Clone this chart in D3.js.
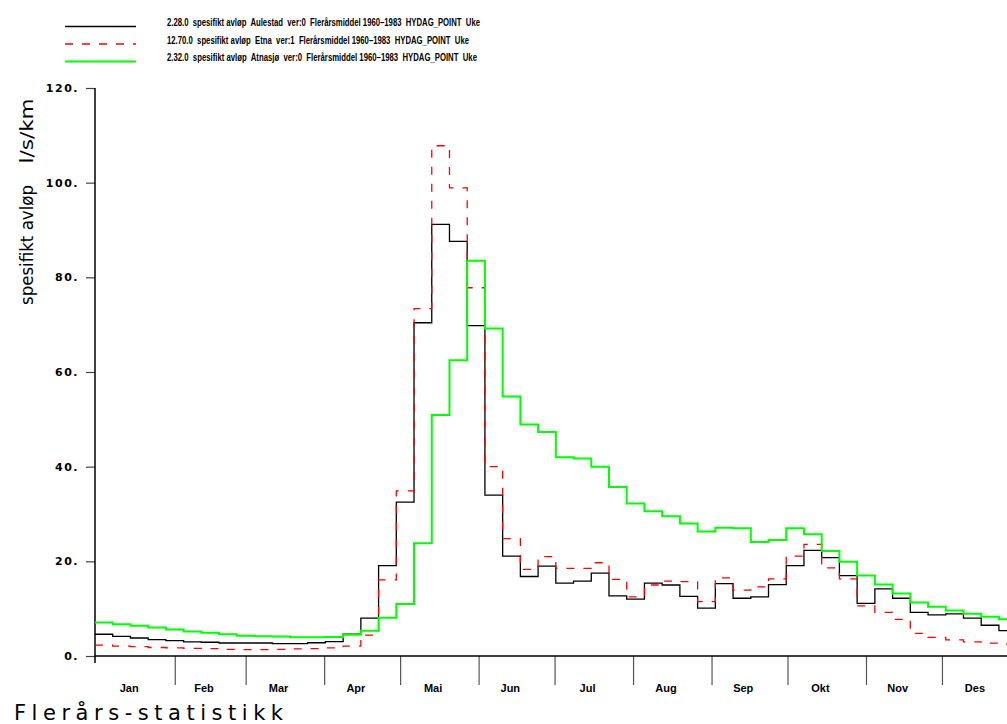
<!DOCTYPE html>
<html>
<head>
<meta charset="utf-8">
<script src="https://cdn.jsdelivr.net/npm/d3@7"></script>
<style>
  body { margin: 0; background: #fff; }
  text { white-space: pre; }
</style>
</head>
<body>
<div id="chart"></div>
<script>
// weekly mean specific runoff, l/s/km, week 1..52
const monthNames = ["Jan", "Feb", "Mar", "Apr", "Mai", "Jun", "Jul", "Aug", "Sep", "Okt", "Nov", "Des"];
const monthDays = [31, 28, 31, 30, 31, 30, 31, 31, 30, 31, 30, 31];

const aulestad = [
  4.6, 4.15, 3.8, 3.45, 3.25, 3.0, 2.9, 2.75, 2.75, 2.75, 2.6, 2.6, 2.8,
  3.05, 4.6, 8.0, 19.1, 32.5, 70.4, 91.2, 87.6, 69.8, 34.0, 21.1, 16.8, 19.0,
  15.4, 15.8, 17.5, 12.7, 12.0, 15.4, 15.0, 12.6, 10.1, 15.3, 12.2, 12.5, 15.1,
  19.1, 22.3, 20.8, 17.0, 11.1, 14.2, 12.2, 9.2, 8.7, 8.9, 8.0, 6.5, 5.35
];
const etna = [
  2.3, 2.1, 2.0, 1.8, 1.7, 1.6, 1.55, 1.4, 1.35, 1.35, 1.4, 1.5, 1.55,
  1.7, 2.1, 4.4, 16.1, 34.9, 73.4, 107.8, 98.9, 77.8, 40.0, 24.8, 18.3, 21.0,
  18.5, 18.5, 19.7, 16.2, 12.5, 15.0, 15.8, 15.7, 11.5, 16.5, 13.9, 14.6, 16.3,
  21.1, 23.6, 18.6, 16.3, 10.6, 9.2, 7.75, 4.8, 3.95, 3.4, 3.0, 2.7, 2.5
];
const atnasjo = [
  7.1, 6.7, 6.4, 6.0, 5.6, 5.2, 4.9, 4.6, 4.3, 4.15, 4.1, 3.95, 3.95,
  4.0, 4.5, 5.35, 8.1, 11.0, 23.8, 50.9, 62.5, 83.5, 69.2, 54.8, 48.9, 47.3,
  42.0, 41.7, 40.0, 35.7, 32.2, 30.6, 29.5, 28.0, 26.3, 27.1, 27.0, 24.1, 24.5,
  27.0, 25.7, 22.2, 19.9, 17.0, 15.1, 13.2, 11.3, 10.4, 9.6, 8.9, 8.3, 7.75
];

const yTicks = [0, 20, 40, 60, 80, 100, 120];
const legendLabels = [
  "2.28.0  spesifikt avløp  Aulestad  ver:0  Flerårsmiddel 1960\u20131983  HYDAG_POINT  Uke",
  "12.70.0  spesifikt avløp  Etna  ver:1  Flerårsmiddel 1960\u20131983  HYDAG_POINT  Uke",
  "2.32.0  spesifikt avløp  Atnasjø  ver:0  Flerårsmiddel 1960\u20131983  HYDAG_POINT  Uke"
];
const legendWidths = [313, 302, 310];

const width = 1007;
const height = 724;
const x0 = 95;
const yBottom = 656;
const yTop = 88;

const series = [
  { values: aulestad, color: "#000000", width: 1.3, dash: null },
  { values: etna, color: "#ff0000", width: 1.3, dash: "8,9" },
  { values: atnasjo, color: "#00ff00", width: 2, dash: null }
];

const svg = d3.select("#chart")
  .append("svg")
  .attr("width", width)
  .attr("height", height)
  .style("display", "block");

const x = d3.scaleLinear().domain([0, 365]).range([x0, x0 + 365 * 2.532]);
const y = d3.scaleLinear().domain([0, 120]).range([yBottom, yTop]);

// month boundaries in days
const monthStart = d3.cumsum([0, ...monthDays.slice(0, -1)]);
const monthEnd = d3.cumsum(monthDays);

// y axis
const yAxis = d3.axisLeft(y)
  .tickValues(yTicks)
  .tickFormat((d) => d + ".")
  .tickSize(9)
  .tickPadding(7);
const gy = svg.append("g")
  .attr("transform", `translate(${x0},0)`)
  .call(yAxis);
gy.select(".domain").remove();
gy.selectAll(".tick line").attr("stroke", "#444").attr("stroke-width", 1.2);
gy.selectAll(".tick text")
  .attr("font-family", "DejaVu Sans")
  .attr("font-weight", "bold")
  .attr("font-size", 11)
  .attr("letter-spacing", 1.5)
  .attr("fill", "#000");
svg.append("line")
  .attr("x1", x0).attr("x2", x0)
  .attr("y1", yTop).attr("y2", yBottom + 7)
  .attr("stroke", "#000").attr("stroke-width", 1.5);

// x axis
const xAxis = d3.axisBottom(x)
  .tickValues(monthEnd.slice(0, -1).map((d) => d + 0.5))
  .tickSize(29)
  .tickFormat("");
const gx = svg.append("g")
  .attr("transform", `translate(0,${yBottom})`)
  .call(xAxis);
gx.select(".domain").remove();
gx.selectAll(".tick line").attr("stroke", "#555").attr("stroke-width", 1.2);
svg.append("line")
  .attr("x1", x0).attr("x2", width)
  .attr("y1", yBottom).attr("y2", yBottom)
  .attr("stroke", "#000").attr("stroke-width", 1.5);

svg.append("g")
  .selectAll("text")
  .data(monthNames)
  .enter()
  .append("text")
  .attr("x", (d, i) => x((monthStart[i] + monthEnd[i]) / 2) - 5)
  .attr("y", 692)
  .attr("text-anchor", "middle")
  .attr("font-family", "Liberation Sans Narrow, Liberation Sans")
  .attr("font-weight", "bold")
  .attr("font-size", 11)
  .text((d) => d);

// y title
svg.append("text")
  .attr("transform", "translate(33,245) rotate(-90)")
  .attr("text-anchor", "middle")
  .attr("font-family", "DejaVu Sans")
  .attr("font-size", 17)
  .attr("textLength", 120)
  .attr("lengthAdjust", "spacingAndGlyphs")
  .text("spesifikt avløp");
svg.append("text")
  .attr("transform", "translate(33,131) rotate(-90)")
  .attr("text-anchor", "middle")
  .attr("font-family", "DejaVu Sans")
  .attr("font-size", 17)
  .attr("textLength", 65)
  .attr("lengthAdjust", "spacingAndGlyphs")
  .text("l/s/km");

// series
const line = d3.line()
  .x((d, i) => x(i * 7))
  .y((d) => y(d))
  .curve(d3.curveStepAfter);

svg.append("g")
  .selectAll("path")
  .data(series)
  .enter()
  .append("path")
  .attr("d", (s) => line([...s.values, s.values[s.values.length - 1]]))
  .attr("fill", "none")
  .attr("stroke", (s) => s.color)
  .attr("stroke-width", (s) => s.width)
  .attr("stroke-dasharray", (s) => s.dash);

// legend
const legend = svg.append("g");
const legendY = [26.5, 44, 61.5];
legend.selectAll("line")
  .data(series)
  .enter()
  .append("line")
  .attr("x1", 65).attr("x2", 136)
  .attr("y1", (d, i) => legendY[i]).attr("y2", (d, i) => legendY[i])
  .attr("stroke", (s) => s.color)
  .attr("stroke-width", (s) => s.width)
  .attr("stroke-dasharray", (s) => s.dash);
legend.selectAll("text")
  .data(legendLabels)
  .enter()
  .append("text")
  .attr("x", 167)
  .attr("y", (d, i) => legendY[i] - 0.5)
  .attr("font-family", "Liberation Sans Narrow, Liberation Sans")
  .attr("font-weight", "bold")
  .attr("font-size", 11)
  .attr("textLength", (d, i) => legendWidths[i])
  .attr("lengthAdjust", "spacingAndGlyphs")
  .text((d) => d);

// footer title
svg.append("text")
  .attr("x", 14)
  .attr("y", 720)
  .attr("font-family", "DejaVu Sans")
  .attr("font-size", 21)
  .attr("textLength", 269)
  .attr("lengthAdjust", "spacing")
  .text("Flerårs-statistikk");
</script>
</body>
</html>
